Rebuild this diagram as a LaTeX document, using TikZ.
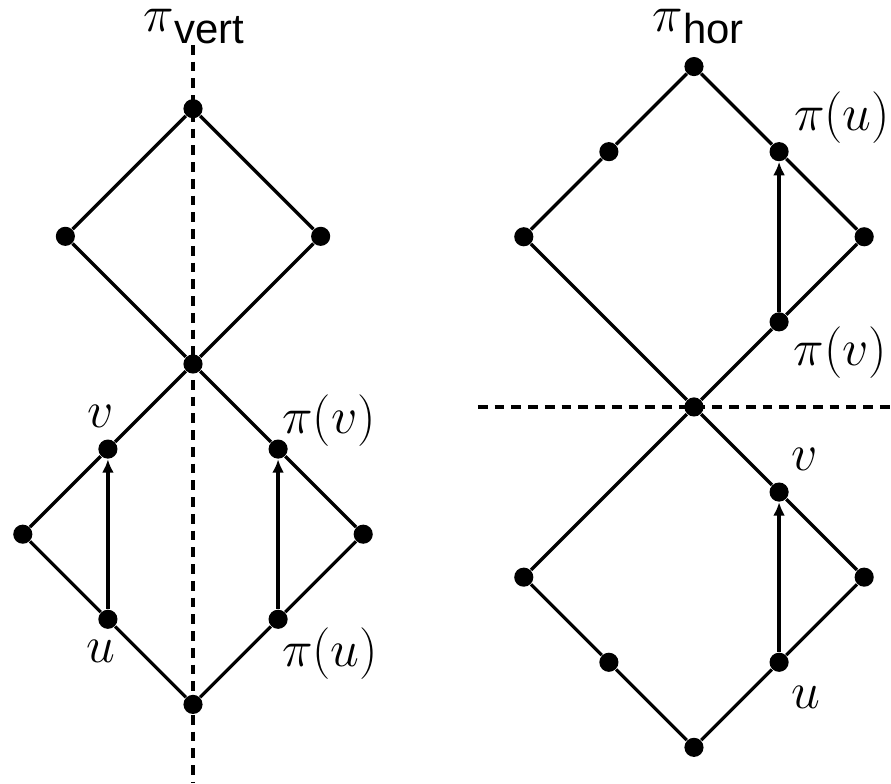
\documentclass[tikz,border=0pt]{standalone}
\usepackage{fontspec}
\newfontfamily\labelsf{Liberation Sans}
\usepackage{tikz}
\usetikzlibrary{positioning,arrows.meta,calc}
\newcommand{\subsf}[1]{\raisebox{-4pt}{\fontsize{14pt}{16pt}\selectfont\labelsf #1}}

\begin{document}
\begin{tikzpicture}[
  dot/.style={circle, fill=black, inner sep=0pt, minimum size=6.4pt},
  edge/.style={line width=1.1pt, draw=black},
  arc/.style={edge, -{Latex[length=4.5pt,width=4pt]}},
  axis/.style={line width=1.1pt, draw=black, dash pattern=on 3.3pt off 2.3pt},
  lbl/.style={font=\fontsize{18.5pt}{22pt}\selectfont, inner sep=0pt},
  title/.style={font=\fontsize{18pt}{22pt}\selectfont, inner sep=0pt, anchor=south}
]
\useasboundingbox (-2.268,-4.924) rectangle (8.202,4.277);
% vertical reflection
\coordinate (vtop) at (0,3.75);
\coordinate (vbot) at (0,-4.924);
\draw[axis] (vtop) -- (vbot);
\node[title] (tvert) at (0.01,3.75) {$\pi$\subsf{vert}};
\node[dot] (a) at (0,3) {};
\node[dot] (b) at (-1.5,1.5) {};
\node[dot] (c) at (1.5,1.5) {};
\node[dot] (m) at (0,0) {};
\node[dot] (v) at (-1,-1) {};
\node[dot] (pv) at (1,-1) {};
\node[dot] (l) at (-2,-2) {};
\node[dot] (r) at (2,-2) {};
\node[dot] (u) at (-1,-3) {};
\node[dot] (pu) at (1,-3) {};
\node[dot] (z) at (0,-4) {};
\draw[edge] (a) -- (b) -- (m) -- (c) -- (a);
\draw[edge] (m) -- (v) -- (l) -- (u) -- (z) -- (pu) -- (r) -- (pv) -- (m);
\draw[arc] (u) -- (v);
\draw[arc] (pu) -- (pv);
\node[lbl] (lv) at ($(v)+(-0.09,0.39)$) {$v$};
\node[lbl] (lpv) at ($(pv)+(0.6,0.33)$) {$\pi(v)$};
\node[lbl] (lu) at ($(u)+(-0.08,-0.38)$) {$u$};
\node[lbl] (lpu) at ($(pu)+(0.61,-0.4)$) {$\pi(u)$};
% horizontal reflection
\begin{scope}[shift={(5.887,-0.505)}]
\coordinate (hleft) at (-2.54,0);
\coordinate (hright) at (2.315,0);
\draw[axis] (hleft) -- (hright);
\node[title] (thor) at (0.05,4.255) {$\pi$\subsf{hor}};
\node[dot] (ha) at (0,4) {};
\node[dot] (hb) at (-1,3) {};
\node[dot] (hpu) at (1,3) {};
\node[dot] (hc) at (-2,2) {};
\node[dot] (hd) at (2,2) {};
\node[dot] (hpv) at (1,1) {};
\node[dot] (hm) at (0,0) {};
\node[dot] (hv) at (1,-1) {};
\node[dot] (hl) at (-2,-2) {};
\node[dot] (hr) at (2,-2) {};
\node[dot] (he) at (-1,-3) {};
\node[dot] (hu) at (1,-3) {};
\node[dot] (hz) at (0,-4) {};
\draw[edge] (ha) -- (hb) -- (hc) -- (hm) -- (hpv) -- (hd) -- (hpu) -- (ha);
\draw[edge] (hm) -- (hl) -- (he) -- (hz) -- (hu) -- (hr) -- (hv) -- (hm);
\draw[arc] (hpv) -- (hpu);
\draw[arc] (hu) -- (hv);
\node[lbl] (lhpu) at ($(hpu)+(0.74,0.4)$) {$\pi(u)$};
\node[lbl] (lhpv) at ($(hpv)+(0.72,-0.36)$) {$\pi(v)$};
\node[lbl] (lhv) at ($(hv)+(0.3,0.38)$) {$v$};
\node[lbl] (lhu) at ($(hu)+(0.32,-0.41)$) {$u$};
\end{scope}
\end{tikzpicture}
\end{document}
